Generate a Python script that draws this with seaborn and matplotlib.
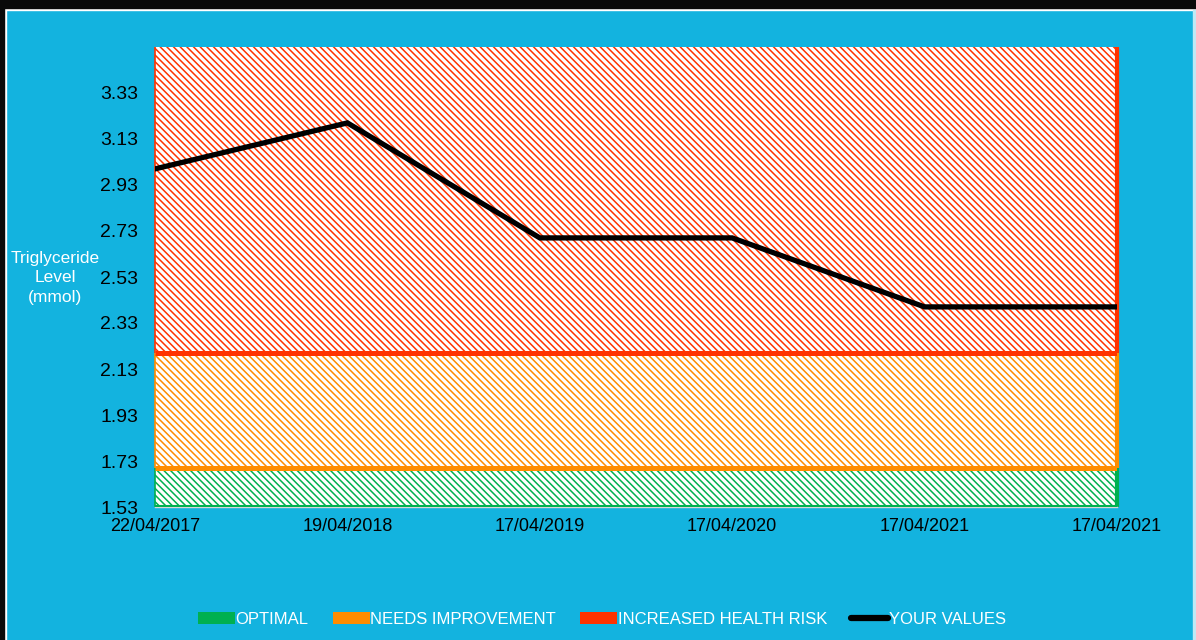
import matplotlib
matplotlib.use("Agg")
import matplotlib.pyplot as plt
from matplotlib.patches import Rectangle, Patch
from matplotlib.lines import Line2D
import seaborn as sns
import pandas as pd

# chart data
dates = ["22/04/2017", "19/04/2018", "17/04/2019", "17/04/2020", "17/04/2021", "17/04/2021"]
values = [3.0, 3.2, 2.7, 2.7, 2.4, 2.4]
y_ticks = [1.53, 1.73, 1.93, 2.13, 2.33, 2.53, 2.73, 2.93, 3.13, 3.33]
y_min, y_max = 1.53, 3.53

band_names = ["OPTIMAL", "NEEDS IMPROVEMENT", "INCREASED HEALTH RISK"]
band_low = [1.53, 1.70, 2.20]
band_high = [1.70, 2.20, 3.53]
band_colors = ["#00B050", "#FF8C00", "#FF3300"]

BLUE = "#13B3DF"

sns.set_style("white")
plt.rcParams["font.family"] = ["Liberation Sans", "DejaVu Sans"]
plt.rcParams["hatch.linewidth"] = 1.1

fig = plt.figure(figsize=(11.96, 6.40), dpi=100, facecolor=BLUE)

# outer frame: black band top/left with a thin white line inside
fig.patches.append(Rectangle((0, 630 / 640), 1, 10 / 640, transform=fig.transFigure, color="white", zorder=0))
fig.patches.append(Rectangle((0, 632 / 640), 1, 8 / 640, transform=fig.transFigure, color="#0a0a0a", zorder=1))
fig.patches.append(Rectangle((0, 0), 6 / 1196, 1, transform=fig.transFigure, color="white", zorder=0))
fig.patches.append(Rectangle((0, 0), 4 / 1196, 1, transform=fig.transFigure, color="#0a0a0a", zorder=1))
fig.patches.append(Rectangle((1193 / 1196, 0), 3 / 1196, 630 / 640, transform=fig.transFigure,
                             color="#bfe9f5", zorder=0))

ax = fig.add_axes([155 / 1196, 1 - 507 / 640, (1117 - 155) / 1196, (507 - 47) / 640])
ax.set_facecolor("white")

x = list(range(len(dates)))
last = len(dates) - 1
for lo, hi, col in zip(band_low, band_high, band_colors):
    ax.fill_between([0, last], lo, hi, facecolor="white", edgecolor=col,
                    hatch="\\" * 5, linewidth=0, zorder=1)
    ax.vlines(0, lo, hi, color=col, linewidth=1.2, zorder=2, clip_on=False)
    ax.vlines(last, lo, hi, color=col, linewidth=3.0, zorder=2, clip_on=False)

# band boundaries
ax.hlines(band_high[1], 0, last, color=band_colors[2], linewidth=3.6, zorder=3)
ax.hlines(band_high[0], 0, last, color=band_colors[1], linewidth=3.6, zorder=3)
ax.hlines(band_low[0] + 0.004, 0, last, color=band_colors[0], linewidth=1.5, zorder=3)

df = pd.DataFrame({"pos": x, "value": values})
sns.lineplot(data=df, x="pos", y="value", color="black", linewidth=3.8, ax=ax, zorder=5)
ax.lines[-1].set_solid_joinstyle("miter")

ax.set_xlim(0, last)
ax.set_ylim(y_min, y_max)
ax.set_xticks(x)
ax.set_xticklabels(dates)
ax.set_yticks(y_ticks)
ax.set_yticklabels([f"{t:.2f}" for t in y_ticks])
ax.set_xlabel("")
ax.set_ylabel("")
ax.tick_params(axis="y", length=0, pad=12, labelsize=14, labelcolor="black")
ax.tick_params(axis="x", length=4, color="#d8d8d8", pad=4, labelsize=13, labelcolor="black", direction="out")
for s in ["top", "right", "left"]:
    ax.spines[s].set_visible(False)
ax.spines["bottom"].set_color("#d8d8d8")
ax.spines["bottom"].set_linewidth(1)

fig.text(55 / 1196, 1 - 278 / 640, "Triglyceride\nLevel\n(mmol)", color="white", fontsize=12.5,
         ha="center", va="center", linespacing=1.35)

# legend: coloured boxes with a dashed white stroke, like the source
handles = [Patch(facecolor=c, edgecolor="white", hatch="-", linewidth=0) for c in band_colors]
handles.append(Line2D([0], [0], color="black", linewidth=4.5))
leg = fig.legend(handles, band_names + ["YOUR VALUES"], loc="center", ncol=4,
                 bbox_to_anchor=(602 / 1196, 1 - 619 / 640), frameon=False, fontsize=12,
                 handlelength=2.2, handleheight=0.7, handletextpad=0.05, columnspacing=1.45)
for t in leg.get_texts():
    t.set_color("white")

fig.savefig("out.png", dpi=100, facecolor=fig.get_facecolor())
